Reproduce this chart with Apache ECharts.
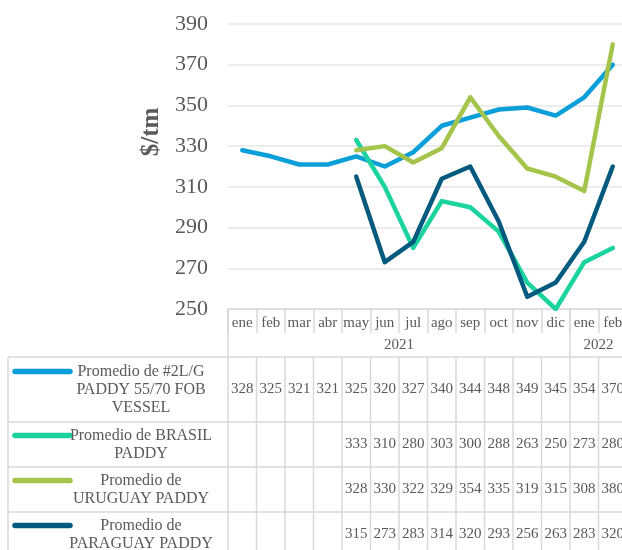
<!DOCTYPE html>
<html>
<head>
<meta charset="utf-8">
<script src="https://cdn.jsdelivr.net/npm/echarts@6/dist/echarts.min.js"></script>
<style>
  html, body { margin: 0; padding: 0; background: #fff; }
  #chart { width: 622px; height: 550px; }
</style>
</head>
<body>
<div id="chart"></div>
<script>
// data
var months = ['ene', 'feb', 'mar', 'abr', 'may', 'jun', 'jul', 'ago', 'sep', 'oct', 'nov', 'dic', 'ene', 'feb'];
var years = ['2021', '2022'];
var yearSpans = [12, 2];

var seriesNames = [
    'Promedio de #2L/G\nPADDY 55/70 FOB\nVESSEL',
    'Promedio de BRASIL\nPADDY',
    'Promedio de\nURUGUAY PADDY',
    'Promedio de\nPARAGUAY PADDY'
];
var colors = ['#0b9fda', '#1bd39e', '#a4c44b', '#045a7e'];

var fob = [328, 325, 321, 321, 325, 320, 327, 340, 344, 348, 349, 345, 354, 370];
var brasil = [null, null, null, null, 333, 310, 280, 303, 300, 288, 263, 250, 273, 280];
var uruguay = [null, null, null, null, 328, 330, 322, 329, 354, 335, 319, 315, 308, 380];
var paraguay = [null, null, null, null, 315, 273, 283, 314, 320, 293, 256, 263, 283, 320];

var allSeries = [fob, brasil, uruguay, paraguay];

var textColor = '#595959';
var lineColor = '#d9d9d9';
var serif = 'Liberation Serif';

var chart = echarts.init(document.getElementById('chart'));

chart.setOption({
    animation: false,
    grid: {left: 228, top: 24, width: 399, height: 285, containLabel: false, outerBoundsMode: 'none'},
    xAxis: {
        type: 'category',
        data: months,
        boundaryGap: true,
        axisLine: {lineStyle: {color: lineColor, width: 1.5}},
        axisTick: {show: true, interval: 0, length: 24, lineStyle: {color: lineColor, width: 1.5}},
        axisLabel: {interval: 0, margin: 6, fontFamily: serif, fontSize: 15, lineHeight: 16, color: textColor}
    },
    yAxis: {
        type: 'value',
        min: 250,
        max: 390,
        interval: 20,
        axisLine: {show: false},
        axisTick: {show: false},
        axisLabel: {margin: 20, fontFamily: serif, fontSize: 22, color: textColor},
        splitLine: {lineStyle: {color: '#e6e6e6', width: 1.5}}
    },
    series: allSeries.map(function(d, i) {
        return {
            type: 'line',
            name: seriesNames[i],
            data: d,
            showSymbol: false,
            symbol: 'none',
            connectNulls: false,
            z: 2 + i,
            lineStyle: {color: colors[i], width: 4.5, cap: 'round', join: 'round'},
            itemStyle: {color: colors[i]}
        };
    })
});

// data table under the axis, placed from the category axis
var c0 = chart.convertToPixel({xAxisIndex: 0}, 0);
var c1 = chart.convertToPixel({xAxisIndex: 0}, 1);
var cw = c1 - c0;
var bx = function(i) { return c0 - cw / 2 + i * cw; };
var axisY = chart.convertToPixel({yAxisIndex: 0}, 250);
var monthRowH = 24;
var yearRowH = 24;
var tableTop = axisY + monthRowH + yearRowH;
var rowH = [65, 45, 45, 45];
var tableLeft = 8;
var rightEnd = bx(months.length);

var els = [];
function hline(x1, x2, y) {
    els.push({type: 'line', shape: {x1: x1, y1: y, x2: x2, y2: y}, style: {stroke: lineColor, lineWidth: 1.5}, silent: true});
}
function vline(x, y1, y2) {
    els.push({type: 'line', shape: {x1: x, y1: y1, x2: x, y2: y2}, style: {stroke: lineColor, lineWidth: 1.5}, silent: true});
}
function txt(s, x, y, size, extra) {
    var st = {text: s, x: x, y: y, align: 'center', verticalAlign: 'middle', fontFamily: serif, fontSize: size, fill: textColor};
    for (var k in extra) st[k] = extra[k];
    els.push({type: 'text', style: st, silent: true});
}

// year row
var acc = 0;
vline(bx(0), axisY, tableTop);
for (var y = 0; y < years.length; y++) {
    var start = acc;
    acc += yearSpans[y];
    vline(bx(acc), axisY, tableTop);
    txt(years[y], (bx(start) + bx(acc)) / 2, axisY + monthRowH + yearRowH / 2, 15);
}

// body rows
var rowTop = tableTop;
hline(tableLeft, rightEnd, rowTop);
for (var r = 0; r < allSeries.length; r++) {
    var h = rowH[r];
    var mid = rowTop + h / 2;
    var nLines = seriesNames[r].split('\n').length;
    var firstLine = mid - (nLines - 1) * 18 / 2;
    els.push({
        type: 'line',
        shape: {x1: 15, y1: firstLine, x2: 70, y2: firstLine},
        style: {stroke: colors[r], lineWidth: 5.5, lineCap: 'round'},
        silent: true
    });
    txt(seriesNames[r], 141, mid, 16, {lineHeight: 18});
    for (var i = 0; i < months.length; i++) {
        if (allSeries[r][i] !== null) {
            txt(String(allSeries[r][i]), chart.convertToPixel({xAxisIndex: 0}, i), mid, 15);
        }
    }
    rowTop += h;
    hline(tableLeft, rightEnd, rowTop);
}
vline(tableLeft, tableTop, rowTop);
for (var b = 0; b <= months.length; b++) {
    vline(bx(b), tableTop, rowTop);
}

// axis title
els.push({
    type: 'text',
    rotation: Math.PI / 2,
    x: 152,
    y: 132,
    style: {text: '$/tm', align: 'center', verticalAlign: 'middle', fontFamily: serif, fontSize: 25, fontWeight: 'bold', fill: textColor},
    silent: true
});

chart.setOption({graphic: els});
</script>
</body>
</html>
